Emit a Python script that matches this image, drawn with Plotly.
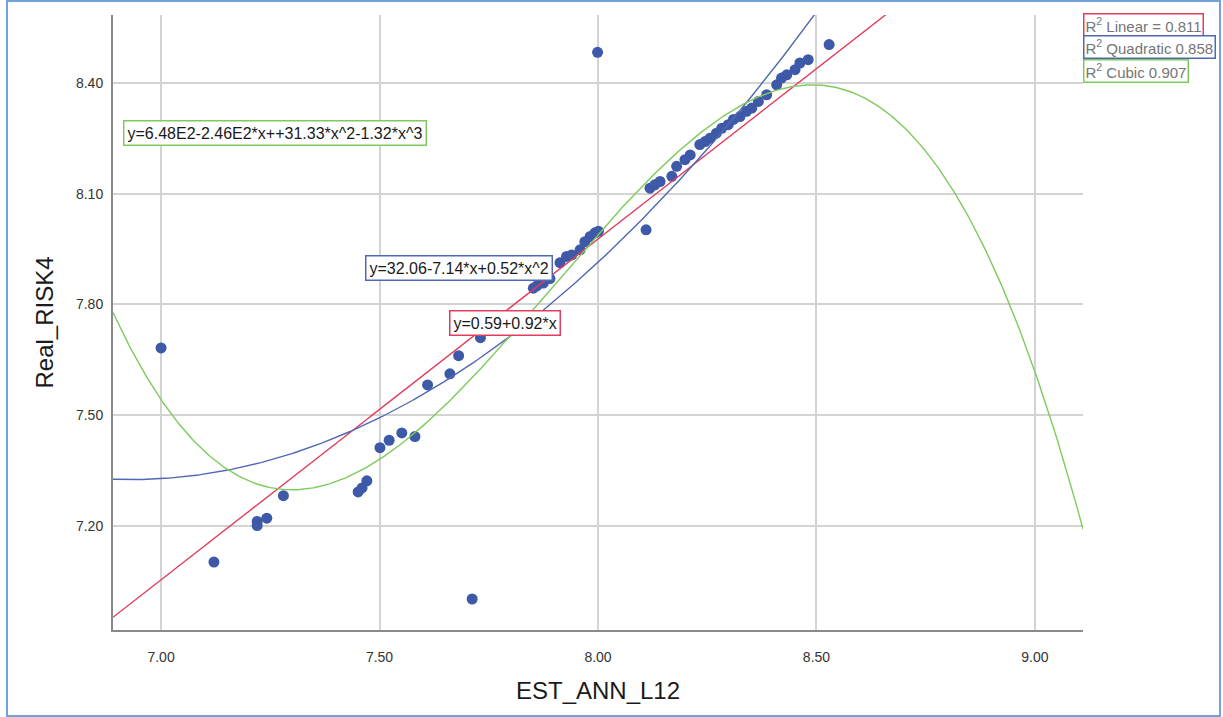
import numpy as np
import plotly.graph_objects as go

# ---- data ----
est_ann_l12 = [7.000, 7.121, 7.220, 7.220, 7.242, 7.280, 7.451, 7.460, 7.471,
               7.501, 7.522, 7.551, 7.581, 7.610, 7.661, 7.681, 7.731, 7.712,
               7.852, 7.860, 7.875, 7.890, 7.913, 7.928, 7.940, 7.959, 7.970,
               7.982, 7.993, 8.001, 7.999, 8.110,
               8.119, 8.130, 8.142, 8.169, 8.180, 8.199, 8.211, 8.233, 8.245,
               8.256, 8.271, 8.283, 8.298, 8.310, 8.325, 8.340, 8.352, 8.367,
               8.386, 8.409, 8.420, 8.432, 8.451, 8.462, 8.481, 8.529]
real_risk4 = [7.682, 7.102, 7.212, 7.201, 7.221, 7.282, 7.292, 7.303, 7.322,
              7.412, 7.432, 7.452, 7.442, 7.582, 7.612, 7.661, 7.710, 7.002,
              7.844, 7.850, 7.858, 7.870, 7.913, 7.930, 7.934, 7.948, 7.970,
              7.984, 7.994, 7.998, 8.483, 8.002,
              8.115, 8.124, 8.133, 8.147, 8.174, 8.192, 8.205, 8.233, 8.241,
              8.250, 8.264, 8.277, 8.287, 8.301, 8.309, 8.323, 8.332, 8.350,
              8.368, 8.395, 8.413, 8.422, 8.436, 8.454, 8.463, 8.504]

# fitted-curve coefficients in powers of (x - fit_center), constant term first,
# read from the curves drawn in the reference
fit_center = 8.0
linear_coef = [7.977, 0.923]
quadratic_coef = [7.914, 1.099, 0.513]
cubic_coef = [7.990, 1.3398, -0.41013, -1.302]

fit_names = ["Linear", "Quadratic", "Cubic"]
fit_colors = ["#E23C5E", "#5068B4", "#7DCB5C"]
r2_labels = ["R<sup>2</sup> Linear = 0.811", "R<sup>2</sup> Quadratic 0.858",
             "R<sup>2</sup> Cubic 0.907"]
equation_labels = ["y=0.59+0.92*x", "y=32.06-7.14*x+0.52*x^2",
                   "y=6.48E2-2.46E2*x++31.33*x^2-1.32*x^3"]

x_range = [6.89, 9.11]
y_range = [6.918, 8.584]
x_ticks = [7.0, 7.5, 8.0, 8.5, 9.0]
y_ticks = [7.2, 7.5, 7.8, 8.1, 8.4]

# ---- layout geometry (pixels) ----
W, H = 1223, 717
L, R, T, B = 113, 1083, 15, 630


def px(xp):
    return (xp - L) / (R - L)


def py(yp):
    return (B - yp) / (B - T)


fig = go.Figure()

fig.add_trace(go.Scatter(
    x=est_ann_l12, y=real_risk4, mode="markers",
    marker=dict(color="#3D59A8", size=11, line=dict(width=0)),
    showlegend=False, hoverinfo="x+y"))

xs = np.linspace(x_range[0], x_range[1], 500)
for coef, name, col in zip([linear_coef, quadratic_coef, cubic_coef],
                           fit_names, fit_colors):
    ys = np.polynomial.polynomial.polyval(xs - fit_center, coef)
    fig.add_trace(go.Scatter(
        x=xs, y=ys, mode="lines",
        line=dict(color=col, width=1.4), name=name, showlegend=False,
        hoverinfo="skip"))

# R^2 boxes (top right)
r2_centers = [24.5, 47, 71]
for lab, col, yc in zip(r2_labels, fit_colors, r2_centers):
    fig.add_annotation(
        x=px(1083), y=py(yc), xref="paper", yref="paper",
        xanchor="left", yanchor="middle", showarrow=False,
        text=lab, font=dict(family="Liberation Sans, Arial", size=15, color="#757575"),
        bgcolor="white", bordercolor=col, borderwidth=1.5, borderpad=1)

# equation boxes
eq_pos = [(505, 323), (459, 268), (275, 133)]
for lab, col, (cx, cy) in zip(equation_labels, fit_colors, eq_pos):
    fig.add_annotation(
        x=px(cx), y=py(cy), xref="paper", yref="paper",
        xanchor="center", yanchor="middle", showarrow=False,
        text=lab, font=dict(family="Liberation Sans, Arial", size=16, color="#1a1a1a"),
        bgcolor="white", bordercolor=col, borderwidth=1.5, borderpad=3)

# outer light-blue frame
fig.add_shape(type="rect", xref="paper", yref="paper",
              x0=px(7), x1=px(1220), y0=py(716), y1=py(1),
              line=dict(color="#6FA3DA", width=2), layer="below")

axis_common = dict(
    showgrid=True, gridcolor="#D3D3D3", gridwidth=1.6,
    zeroline=False, showline=True, linecolor="#8A8A8A", linewidth=2,
    ticks="", tickfont=dict(family="Liberation Sans, Arial", size=14, color="#333333"),
    tickformat=".2f")

fig.update_xaxes(range=x_range, tickvals=x_ticks, ticklabelstandoff=13,
                 title=dict(text="EST_ANN_L12", standoff=18,
                            font=dict(family="Liberation Sans, Arial", size=24, color="#1a1a1a")),
                 **axis_common)
fig.update_yaxes(range=y_range, tickvals=y_ticks, ticklabelstandoff=5,
                 title=dict(text="Real_RISK4", standoff=16,
                            font=dict(family="Liberation Sans, Arial", size=24, color="#1a1a1a")),
                 **axis_common)

fig.update_layout(
    width=W, height=H,
    margin=dict(l=L, r=W - R, t=T, b=H - B, autoexpand=False),
    paper_bgcolor="white", plot_bgcolor="white",
    showlegend=False)

fig.write_html("out.html", config={"displayModeBar": False},
               post_script="document.body.style.margin='0';document.body.style.overflow='hidden';")
